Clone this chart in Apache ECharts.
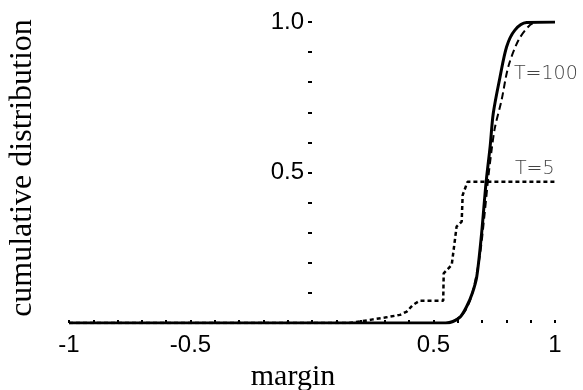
<!DOCTYPE html>
<html>
<head>
<meta charset="utf-8">
<script src="https://cdn.jsdelivr.net/npm/echarts@6/dist/echarts.min.js"></script>
<style>
  html, body { margin: 0; padding: 0; background: #fff; }
  #chart { width: 583px; height: 390px; }
</style>
</head>
<body>
<div id="chart"></div>
<script>
// margin values (x) and cumulative distribution (y)
const t100SolidX = [-1, 0.55, 0.58, 0.61, 0.636, 0.66, 0.678, 0.698, 0.716, 0.733, 0.746, 0.774, 0.801, 0.835, 0.883, 1];
const t100SolidY = [0, 0, 0.005, 0.02, 0.054, 0.1, 0.154, 0.298, 0.464, 0.586, 0.697, 0.818, 0.918, 0.973, 0.998, 1];

const t100DashX = [-1, 0.56, 0.59, 0.63, 0.66, 0.69, 0.71, 0.725, 0.74, 0.753, 0.78, 0.808, 0.85, 0.897, 0.93, 1];
const t100DashY = [0, 0, 0.01, 0.04, 0.1, 0.22, 0.36, 0.48, 0.58, 0.65, 0.74, 0.852, 0.94, 0.99, 1, 1];

const t5X = [-1, 0.15, 0.2, 0.25, 0.3, 0.362, 0.39, 0.415, 0.444, 0.54, 0.542, 0.575, 0.595, 0.616, 0.62, 0.64, 1];
const t5Y = [0, 0, 0.005, 0.012, 0.018, 0.027, 0.038, 0.06, 0.074, 0.074, 0.165, 0.193, 0.32, 0.337, 0.425, 0.469, 0.469];

const xTickLabels = { '-1': '-1', '-0.5': '-0.5', '0.5': '0.5', '1': '1' };
const yTickLabels = { '0.5': '0.5', '1': '1.0' };

const pairs = (xs, ys) => xs.map((x, i) => [x, ys[i]]);

const chart = echarts.init(document.getElementById('chart'));

chart.setOption({
  animation: false,
  backgroundColor: '#fff',
  grid: { left: 69, right: 28, top: 22, bottom: 67, outerBoundsMode: 'none', containLabel: false },
  xAxis: {
    type: 'value',
    min: -1,
    max: 1,
    interval: 0.5,
    name: 'margin',
    nameLocation: 'middle',
    nameGap: 34,
    nameTextStyle: { fontFamily: 'Liberation Serif', fontSize: 30, color: '#000', padding: [0, 38, 0, 0] },
    axisLine: { show: false, onZero: false },
    axisTick: { show: true, inside: true, length: 3, lineStyle: { color: '#000', width: 2 } },
    minorTick: { show: true, splitNumber: 5, length: 3, lineStyle: { color: '#000', width: 2 } },
    splitLine: { show: false },
    axisLabel: {
      margin: 10,
      fontFamily: 'Liberation Sans',
      fontSize: 24,
      color: '#000',
      formatter: v => xTickLabels[String(v)] || ''
    }
  },
  yAxis: {
    type: 'value',
    min: 0,
    max: 1,
    interval: 0.5,
    // axis sits at margin = 0, half way across the plot
    offset: -243,
    name: 'cumulative distribution',
    nameLocation: 'middle',
    nameGap: 273,
    nameTextStyle: { fontFamily: 'Liberation Serif', fontSize: 32, color: '#000', padding: [0, 0, 0, 9] },
    axisLine: { show: false, onZero: false },
    axisTick: { show: true, length: 4, lineStyle: { color: '#000', width: 2 } },
    minorTick: { show: true, splitNumber: 5, length: 4, lineStyle: { color: '#000', width: 2 } },
    splitLine: { show: false },
    axisLabel: {
      margin: 8,
      fontFamily: 'Liberation Sans',
      fontSize: 24,
      color: '#000',
      formatter: v => yTickLabels[String(v)] || ''
    }
  },
  series: [
    {
      name: 'T=5',
      type: 'line',
      data: pairs(t5X, t5Y),
      showSymbol: false,
      lineStyle: { color: '#000', width: 2.5, type: [4, 3] },
      markPoint: {
        symbolSize: 0,
        label: {
          show: true, position: 'inside', align: 'left', formatter: 'T=5',
          fontFamily: 'DejaVu Sans', fontWeight: 300, fontSize: 19, color: '#444'
        },
        data: [{ coord: [0.835, 0.512] }]
      }
    },
    {
      name: 'T=100 dashed',
      type: 'line',
      data: pairs(t100DashX, t100DashY),
      smooth: 0.3,
      showSymbol: false,
      lineStyle: { color: '#000', width: 2, type: [7, 4] }
    },
    {
      name: 'T=100',
      type: 'line',
      data: pairs(t100SolidX, t100SolidY),
      smooth: 0.3,
      showSymbol: false,
      lineStyle: { color: '#000', width: 3 },
      markPoint: {
        symbolSize: 0,
        label: {
          show: true, position: 'inside', align: 'left', formatter: 'T=100',
          fontFamily: 'DejaVu Sans', fontWeight: 300, fontSize: 19, color: '#444'
        },
        data: [{ coord: [0.831, 0.827] }]
      }
    }
  ]
});
</script>
</body>
</html>
